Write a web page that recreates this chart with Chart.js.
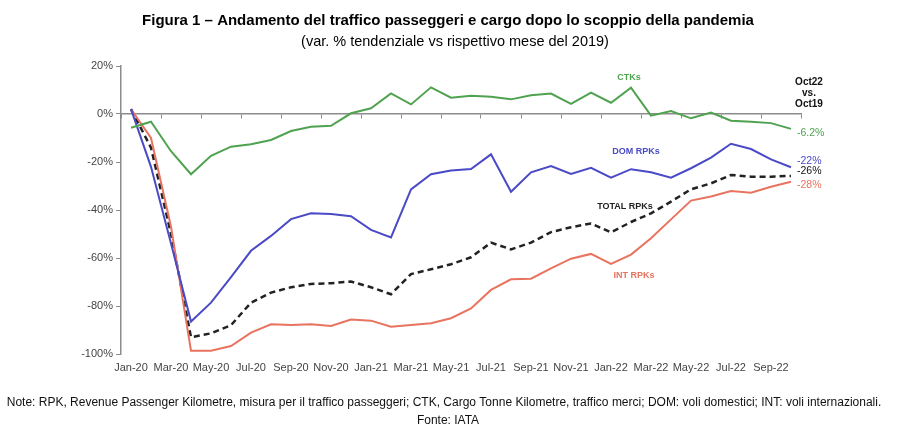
<!DOCTYPE html>
<html>
<head>
<meta charset="utf-8">
<script src="https://cdn.jsdelivr.net/npm/chart.js@4.4.0/dist/chart.umd.min.js"></script>
<style>
  html, body { margin: 0; padding: 0; background: #fff; }
  #wrap { width: 900px; height: 446px; }
</style>
</head>
<body>
<div id="wrap"><canvas id="trafficChart" width="900" height="446"></canvas></div>
<script>
const months = [
  'Jan-20', 'Feb-20', 'Mar-20', 'Apr-20', 'May-20', 'Jun-20', 'Jul-20', 'Aug-20', 'Sep-20', 'Oct-20', 'Nov-20', 'Dec-20',
  'Jan-21', 'Feb-21', 'Mar-21', 'Apr-21', 'May-21', 'Jun-21', 'Jul-21', 'Aug-21', 'Sep-21', 'Oct-21', 'Nov-21', 'Dec-21',
  'Jan-22', 'Feb-22', 'Mar-22', 'Apr-22', 'May-22', 'Jun-22', 'Jul-22', 'Aug-22', 'Sep-22', 'Oct-22'
];

const ctk = [-5.7, -3.2, -15.5, -25.1, -17.4, -13.6, -12.6, -10.8, -7.1, -5.3, -4.9, 0.3,
  2.4, 8.6, 4.0, 11.1, 6.8, 7.6, 7.2, 6.1, 7.8, 8.5, 4.2, 8.9,
  4.7, 11.0, -0.7, 1.2, -1.8, 0.6, -2.8, -3.2, -3.8, -6.2];

const domRpk = [2, -22, -54, -86.5, -78.6, -68, -57, -50.8, -43.8, -41.4, -41.7, -42.6,
  -48.3, -51.4, -31.4, -25.1, -23.5, -22.9, -16.8, -32.4, -24.3, -21.7, -25, -22.4,
  -26.5, -23, -24.3, -26.5, -22.6, -18.2, -12.4, -14.6, -18.9, -22.2];

const totalRpk = [2, -14, -50, -93, -91.4, -88, -78.6, -74.4, -72.2, -70.8, -70.5, -69.8,
  -72.2, -75.1, -66.7, -64.7, -62.6, -59.7, -53.6, -56.4, -53.6, -49.2, -47.2, -45.6,
  -49.3, -45, -41.4, -36.5, -31.4, -28.9, -25.4, -26.1, -26.1, -25.8];

const intRpk = [2, -10, -47, -98.6, -98.6, -96.7, -91.1, -87.6, -87.9, -87.6, -88.3, -85.6,
  -86.1, -88.6, -87.9, -87.2, -85.1, -81, -73.3, -68.9, -68.6, -64.3, -60.3, -58.3,
  -62.5, -58.6, -51.8, -43.9, -36.1, -34.4, -32.1, -32.8, -30.3, -28.2];

const endLabels = ['-6.2%', '-22%', '-26%', '-28%'];

const GREEN = '#4fa24f';
const BLUE = '#4a4ac6';
const RED = '#e8735f';
const AXIS = '#8c8c8c';

Chart.defaults.font.family = '"Liberation Sans", Arial, sans-serif';

// titles, series names and notes
const textPlugin = {
  id: 'texts',
  afterDraw(chart) {
    const ctx = chart.ctx;
    const xs = chart.scales.x;
    const ys = chart.scales.y;
    ctx.save();
    ctx.textAlign = 'center';
    ctx.textBaseline = 'middle';
    ctx.fillStyle = '#000';
    ctx.font = 'bold 15px "Liberation Sans", Arial, sans-serif';
    ctx.fillText('Figura 1 \u2013 Andamento del traffico passeggeri e cargo dopo lo scoppio della pandemia', 448, 21);
    ctx.font = '14.5px "Liberation Sans", Arial, sans-serif';
    ctx.fillText('(var. % tendenziale vs rispettivo mese del 2019)', 455, 42);

    // series names
    ctx.font = 'bold 9px "Liberation Sans", Arial, sans-serif';
    const names = [
      ['CTKs', GREEN, 24.9, 15],
      ['DOM RPKs', BLUE, 25.25, -15.8],
      ['TOTAL RPKs', '#222', 24.7, -38.7],
      ['INT RPKs', RED, 25.15, -67.5]
    ];
    names.forEach(n => {
      ctx.fillStyle = n[1];
      ctx.fillText(n[0], xs.getPixelForValue(0) + n[2] * (xs.getPixelForValue(1) - xs.getPixelForValue(0)), ys.getPixelForValue(n[3]));
    });

    // right side comparison
    ctx.fillStyle = '#111';
    ctx.font = 'bold 10px "Liberation Sans", Arial, sans-serif';
    ctx.fillText('Oct22', 809, 82);
    ctx.fillText('vs.', 809, 93);
    ctx.fillText('Oct19', 809, 104);

    ctx.textAlign = 'left';
    ctx.font = '10.5px "Liberation Sans", Arial, sans-serif';
    const endColors = [GREEN, BLUE, '#111', RED];
    const endY = [-8, -19.5, -24, -29.5];
    endLabels.forEach((t, i) => {
      ctx.fillStyle = endColors[i];
      ctx.fillText(t, 797, ys.getPixelForValue(endY[i]));
    });

    // notes
    ctx.textAlign = 'center';
    ctx.fillStyle = '#111';
    ctx.font = '12px "Liberation Sans", Arial, sans-serif';
    ctx.fillText('Note: RPK, Revenue Passenger Kilometre, misura per il traffico passeggeri; CTK, Cargo Tonne Kilometre, traffico merci; DOM: voli domestici; INT: voli internazionali.', 444, 403);
    ctx.fillText('Fonte: IATA', 448, 421);
    ctx.restore();
  }
};

const lineData = {
  labels: months,
  datasets: [
    { label: 'CTKs', data: ctk, borderColor: GREEN, borderWidth: 2, xAxisID: 'x' },
    { label: 'DOM RPKs', data: domRpk, borderColor: BLUE, borderWidth: 2, xAxisID: 'x' },
    { label: 'INT RPKs', data: intRpk, borderColor: RED, borderWidth: 2, xAxisID: 'x' },
    { label: 'TOTAL RPKs', data: totalRpk, borderColor: '#222', borderWidth: 2.5, borderDash: [6, 4], xAxisID: 'x' }
  ]
};

const lineConfig = {
  type: 'line',
  data: lineData,
  plugins: [textPlugin],
  options: {
    responsive: false,
    animation: false,
    devicePixelRatio: 1,
    layout: { padding: { left: 0, right: 99, top: 66, bottom: 62 } },
    elements: {
      point: { radius: 0 },
      line: { tension: 0, fill: false }
    },
    scales: {
      x: {
        type: 'category',
        position: 'bottom',
        offset: true,
        grid: { display: false },
        border: { display: false },
        ticks: {
          autoSkip: false,
          maxRotation: 0,
          padding: -1,
          color: '#444',
          font: { size: 11 },
          callback: function (val, i) { return i % 2 === 0 ? this.getLabelForValue(val) : ''; }
        },
        afterFit(scale) { scale.height = 30; }
      },
      x0: {
        type: 'category',
        labels: months,
        position: { y: 0 },
        offset: true,
        ticks: { display: false },
        grid: {
          offset: true,
          drawOnChartArea: false,
          drawTicks: true,
          tickLength: 4,
          color: c => (c.index === undefined || c.index % 2 === 0) ? AXIS : 'rgba(0,0,0,0)'
        },
        border: { display: true, color: AXIS, width: 1.5 }
      },
      y: {
        min: -100,
        max: 20,
        ticks: {
          stepSize: 20,
          padding: 3,
          color: '#444',
          font: { size: 11 },
          callback: v => v + '%'
        },
        grid: { drawOnChartArea: false, drawTicks: true, tickLength: 5, color: AXIS },
        border: { color: AXIS, width: 1.5 },
        afterFit(scale) { scale.width = 121; }
      }
    },
    plugins: {
      legend: { display: false },
      title: { display: false },
      tooltip: { enabled: false }
    }
  }
};

new Chart(document.getElementById('trafficChart'), lineConfig);
</script>
</body>
</html>
